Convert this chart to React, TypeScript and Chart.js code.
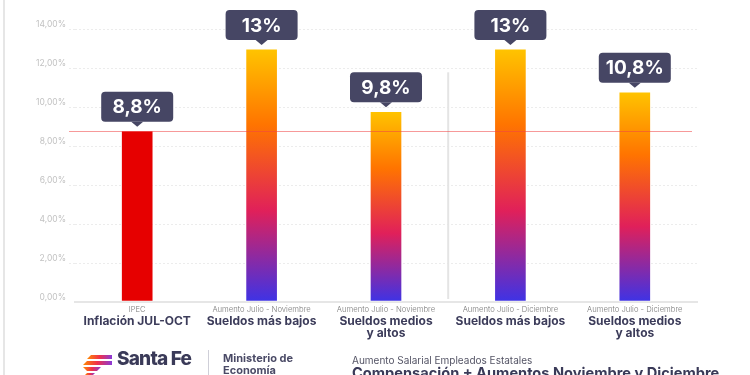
import React, { useEffect, useRef } from "react";
import { Chart, registerables } from "chart.js";

Chart.register(...registerables);

const subLabels = [
  "IPEC",
  "Aumento Julio - Noviembre",
  "Aumento Julio - Noviembre",
  "Aumento Julio - Diciembre",
  "Aumento Julio - Diciembre",
];
const mainLabels = [
  ["Inflación JUL-OCT"],
  ["Sueldos más bajos"],
  ["Sueldos medios", "y altos"],
  ["Sueldos más bajos"],
  ["Sueldos medios", "y altos"],
];
const values = [8.8, 13, 9.8, 13, 10.8];
const inflationRef = 8.8;
const yTicks = [0, 2, 4, 6, 8, 10, 12, 14];
const yMax = 15;

const fmt = (v: number) => String(v).replace(".", ",") + "%";

function roundRect(ctx: CanvasRenderingContext2D, x: number, y: number, w: number, h: number, r: number) {
  ctx.beginPath();
  ctx.moveTo(x + r, y);
  ctx.lineTo(x + w - r, y);
  ctx.quadraticCurveTo(x + w, y, x + w, y + r);
  ctx.lineTo(x + w, y + h - r);
  ctx.quadraticCurveTo(x + w, y + h, x + w - r, y + h);
  ctx.lineTo(x + r, y + h);
  ctx.quadraticCurveTo(x, y + h, x, y + h - r);
  ctx.lineTo(x, y + r);
  ctx.quadraticCurveTo(x, y, x + r, y);
  ctx.closePath();
}

const overlayPlugin = {
  id: "overlay",
  afterDatasetsDraw(chart: any) {
    const { ctx, chartArea, scales } = chart;
    const xs = scales.x;
    const ys = scales.y;
    ctx.save();
    // separator
    const sepX = (xs.getPixelForValue(2) + xs.getPixelForValue(3)) / 2;
    ctx.strokeStyle = "#e4e4e4";
    ctx.lineWidth = 2;
    ctx.beginPath();
    ctx.moveTo(sepX, ys.getPixelForValue(11.8));
    ctx.lineTo(sepX, chartArea.bottom - 3);
    ctx.stroke();
    // reference line
    const ry = Math.round(ys.getPixelForValue(inflationRef)) + 0.5;
    ctx.setLineDash([]);
    ctx.globalAlpha = 1;
    ctx.fillStyle = "rgba(240,70,70,0.55)";
    ctx.fillRect(chartArea.left - 6, ry - 0.5, chartArea.right - chartArea.left + 1, 1);
    // value boxes
    values.forEach((v, i) => {
      const cx = xs.getPixelForValue(i);
      const top = ys.getPixelForValue(v);
      const bw = 72, bh = 30, ph = 5;
      const by = top - 4 - ph - bh;
      ctx.fillStyle = "#464664";
      roundRect(ctx, cx - bw / 2, by, bw, bh, 4);
      ctx.fill();
      ctx.beginPath();
      ctx.moveTo(cx - 6, by + bh);
      ctx.lineTo(cx + 6, by + bh);
      ctx.lineTo(cx, by + bh + ph);
      ctx.closePath();
      ctx.fill();
      ctx.fillStyle = "#ffffff";
      ctx.font = "bold 19px Inter";
      ctx.textAlign = "center";
      ctx.textBaseline = "middle";
      ctx.fillText(fmt(v), cx, by + bh / 2 + 1);
    });
    // x labels
    subLabels.forEach((s, i) => {
      const cx = xs.getPixelForValue(i);
      ctx.textAlign = "center";
      ctx.textBaseline = "middle";
      ctx.fillStyle = "#7a7a7a";
      ctx.font = "300 7.7px Inter";
      ctx.fillText(s, cx, chartArea.bottom + 8);
      ctx.fillStyle = "#3c3c5a";
      ctx.font = "bold 12px Inter";
      mainLabels[i].forEach((line, j) => {
        ctx.fillText(line, cx, chartArea.bottom + 19 + j * 12);
      });
    });
    ctx.restore();
  },
};

function barColor(c: any) {
  if (c.dataIndex === 0) return "#e60000";
  const chart = c.chart;
  if (!chart.chartArea) return "#ff7a00";
  const ys = chart.scales.y;
  const top = ys.getPixelForValue(c.raw);
  const bottom = ys.getPixelForValue(0);
  const g = chart.ctx.createLinearGradient(0, top, 0, bottom);
  g.addColorStop(0, "#ffc400");
  g.addColorStop(0.3, "#ff7400");
  g.addColorStop(0.64, "#e0205a");
  g.addColorStop(1, "#3d33e6");
  return g;
}

function SantaFeLogo() {
  return (
    <svg width="30" height="21" viewBox="0 0 30 21" style={{ position: "absolute", left: 83, top: 354 }}>
      <defs>
        <linearGradient id="sfg" x1="0" y1="0" x2="1" y2="0">
          <stop offset="0" stopColor="#ff8a00" />
          <stop offset="0.5" stopColor="#f0304a" />
          <stop offset="1" stopColor="#8a3ad8" />
        </linearGradient>
      </defs>
      <path d="M8 1 L29 1 L29 5 L4 5 Z" fill="url(#sfg)" />
      <path d="M4 7 L29 7 L29 11 L0 11 Z" fill="url(#sfg)" />
      <path d="M0 13 L18 13 L14 17 L4 17 Z" fill="url(#sfg)" />
      <path d="M4 19 L12 19 L10 21 L2 21 Z" fill="url(#sfg)" />
    </svg>
  );
}

export default function App() {
  const ref = useRef<HTMLCanvasElement | null>(null);
  useEffect(() => {
    document.body.style.margin = "0";
    if (!ref.current) return;
    const chart = new Chart(ref.current, {
      type: "bar",
      data: {
        labels: mainLabels.map((l) => l.join(" ")),
        datasets: [
          {
            data: values,
            backgroundColor: barColor as any,
            borderColor: "rgba(255,255,255,0.35)",
            borderWidth: 1,
            barThickness: 32,
            borderSkipped: false,
          },
        ],
      },
      options: {
        responsive: false,
        animation: false,
        devicePixelRatio: 1,
        layout: { padding: { top: 10, left: 0, right: 53, bottom: 65 } },
        plugins: { legend: { display: false }, tooltip: { enabled: false } },
        scales: {
          x: {
            grid: { display: false },
            ticks: { display: false },
            border: { display: true, color: "#e6e6e6", width: 2 },
          },
          y: {
            min: 0,
            max: yMax,
            afterBuildTicks: (axis: any) => {
              axis.ticks = yTicks.map((v) => ({ value: v }));
            },
            afterFit: (axis: any) => {
              axis.width = 75;
            },
            ticks: {
              padding: 3,
              labelOffset: -5,
              color: "#c2c2c2",
              font: { family: "Inter", size: 8.5 },
              callback: (v: any) => Number(v).toFixed(2).replace(".", ",") + "%",
            },
            grid: {
              color: (c: any) => (c.tick && c.tick.value === 0 ? "rgba(0,0,0,0)" : "#ececec"),
              tickLength: 6,
              tickBorderDash: [2, 2],
            },
            border: { display: false, dash: [2, 2] },
          },
        },
      },
      plugins: [overlayPlugin],
    } as any);
    return () => chart.destroy();
  }, []);

  return (
    <div style={{ position: "absolute", left: 0, top: 0, width: 750, height: 375, overflow: "hidden", background: "#fff", fontFamily: "Inter, sans-serif" }}>
      <canvas ref={ref} width={750} height={375} style={{ position: "absolute", left: 0, top: 0 }} />
      <div style={{ position: "absolute", left: 3, top: 0, width: 2, height: 375, background: "#e6e6e6" }} />
      <SantaFeLogo />
      <div style={{ position: "absolute", left: 117, top: 347, fontSize: 19, fontWeight: 800, color: "#3a3a58", letterSpacing: -0.8, whiteSpace: "nowrap" }}>Santa Fe</div>
      <div style={{ position: "absolute", left: 208, top: 350, width: 1, height: 25, background: "#cfcfd8" }} />
      <div style={{ position: "absolute", left: 223, top: 352, fontSize: 11, fontWeight: 700, color: "#4a4a66", lineHeight: "12px", whiteSpace: "nowrap" }}>
        Ministerio de
        <br />
        Economía
      </div>
      <div style={{ position: "absolute", left: 352, top: 354, fontSize: 10, fontWeight: 400, color: "#555566", whiteSpace: "nowrap", lineHeight: "12px" }}>
        Aumento Salarial Empleados Estatales
      </div>
      <div style={{ position: "absolute", left: 352, top: 364, fontSize: 14.6, fontWeight: 700, color: "#3a3a58", whiteSpace: "nowrap", lineHeight: "18px" }}>
        Compensación + Aumentos Noviembre y Diciembre
      </div>
    </div>
  );
}
